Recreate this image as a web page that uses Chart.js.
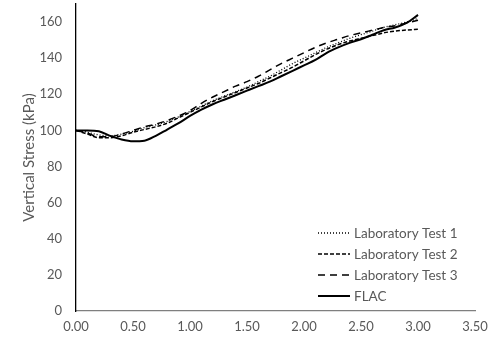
<!DOCTYPE html>
<html>
<head>
<meta charset="utf-8">
<script src="https://cdn.jsdelivr.net/npm/chart.js@4/dist/chart.umd.min.js"></script>
<style>
  html, body { margin: 0; padding: 0; background: #fff; }
  #wrap { width: 498px; height: 341px; position: relative; }
</style>
</head>
<body>
<div id="wrap"><canvas id="chart1"></canvas></div>
<script>
// displacement (x axis) sampled every 0.1
const xs = [0.0, 0.1, 0.2, 0.3, 0.4, 0.5, 0.6, 0.7, 0.8, 0.9, 1.0, 1.1, 1.2, 1.3, 1.4, 1.5,
            1.6, 1.7, 1.8, 1.9, 2.0, 2.1, 2.2, 2.3, 2.4, 2.5, 2.6, 2.7, 2.8, 2.9, 3.0];

// vertical stress (kPa)
const labTest1 = [100, 99, 97.5, 97, 98, 99.5, 101.5, 103, 105, 107.5, 110.5, 113.5, 116.5, 119, 121.5, 124,
                  127, 130, 133.5, 137, 140, 143, 146, 148.5, 151, 153, 155, 157, 158.5, 160, 162];
const labTest2 = [100, 98, 96, 96, 97, 99, 100.5, 102, 104, 107, 110, 113, 116, 118.5, 121, 123.5,
                  126, 129, 132, 135, 138.5, 142, 145, 147.5, 149.5, 151, 152.5, 154, 155, 155.6, 156];
const labTest3 = [100, 98.5, 96.5, 96.5, 98, 100, 102, 103.5, 105.5, 108, 111, 115, 118.5, 121.5, 124.5, 127,
                  130, 133.5, 137, 140, 143, 146, 148.5, 150.5, 152.5, 154, 155.5, 157, 158, 159.5, 161];
const flac     = [100, 100, 99.5, 97, 95, 94, 94.3, 97, 100.5, 104, 108, 111.5, 114.5, 117, 119.5, 122,
                  124.5, 127, 130, 133, 136, 139, 143, 146, 148.5, 150.5, 153, 155.5, 157, 159.5, 164];

const seriesNames = ['Laboratory Test 1', 'Laboratory Test 2', 'Laboratory Test 3', 'FLAC'];
const yTitle = 'Vertical Stress (kPa)';

const toPoints = (ys) => xs.map((x, i) => ({ x: x, y: ys[i] }));

const textColor = '#595959';
const family = 'Lato, "Liberation Sans", sans-serif';
const tickFont = { family: family, size: 13 };

// legend drawn inside the plot area, bottom right
const insideLegend = {
  id: 'insideLegend',
  afterDraw(chart) {
    const ctx = chart.ctx;
    const area = chart.chartArea;
    const x0 = area.left + 242;
    const y0 = area.bottom - 78;
    ctx.save();
    chart.data.datasets.forEach((ds, i) => {
      const y = y0 + i * 21;
      ctx.beginPath();
      ctx.setLineDash(ds.borderDash || []);
      ctx.lineWidth = ds.borderWidth;
      ctx.strokeStyle = ds.borderColor;
      ctx.moveTo(x0, y);
      ctx.lineTo(x0 + 32, y);
      ctx.stroke();
      ctx.setLineDash([]);
      ctx.fillStyle = textColor;
      ctx.font = '13.5px ' + family;
      ctx.textBaseline = 'middle';
      ctx.fillText(ds.label, x0 + 36, y + 1);
    });
    ctx.restore();
  }
};

const lineDs = (label, ys, dash, width) => ({
  label: label,
  data: toPoints(ys),
  borderColor: '#000',
  borderDash: dash,
  borderWidth: width,
  pointRadius: 0,
  fill: false,
  cubicInterpolationMode: 'monotone'
});

new Chart(document.getElementById('chart1').getContext('2d'), {
  type: 'line',
  data: {
    datasets: [
      lineDs(seriesNames[0], labTest1, [1, 2], 1.3),
      lineDs(seriesNames[1], labTest2, [4, 2], 1.5),
      lineDs(seriesNames[2], labTest3, [7, 5], 1.5),
      lineDs(seriesNames[3], flac, [], 2)
    ]
  },
  options: {
    animation: false,
    responsive: true,
    maintainAspectRatio: false,
    layout: { padding: { top: 4, right: 23, left: 0, bottom: 0 } },
    scales: {
      x: {
        type: 'linear',
        min: 0,
        max: 3.5,
        ticks: {
          stepSize: 0.5,
          color: textColor,
          font: tickFont,
          padding: 8,
          maxRotation: 0,
          callback: (v) => Number(v).toFixed(2)
        },
        grid: { display: false, drawTicks: false },
        border: { color: '#7f7f7f', width: 1.3 },
        afterFit: (s) => { s.height = 30; s.paddingLeft = 0; s.paddingRight = 0; }
      },
      y: {
        min: 0,
        max: 170,
        ticks: {
          stepSize: 20,
          includeBounds: false,
          color: textColor,
          font: tickFont,
          padding: 14
        },
        grid: { display: false, drawTicks: false },
        border: { color: '#000', width: 1.3 },
        title: { display: true, text: yTitle, color: textColor, font: { family: family, size: 15 }, padding: { top: 20, bottom: 0 } },
        afterFit: (s) => { s.width = 76; s.paddingTop = 0; s.paddingBottom = 0; }
      }
    },
    plugins: { legend: { display: false }, tooltip: { enabled: false } }
  },
  plugins: [insideLegend]
});
</script>
</body>
</html>
